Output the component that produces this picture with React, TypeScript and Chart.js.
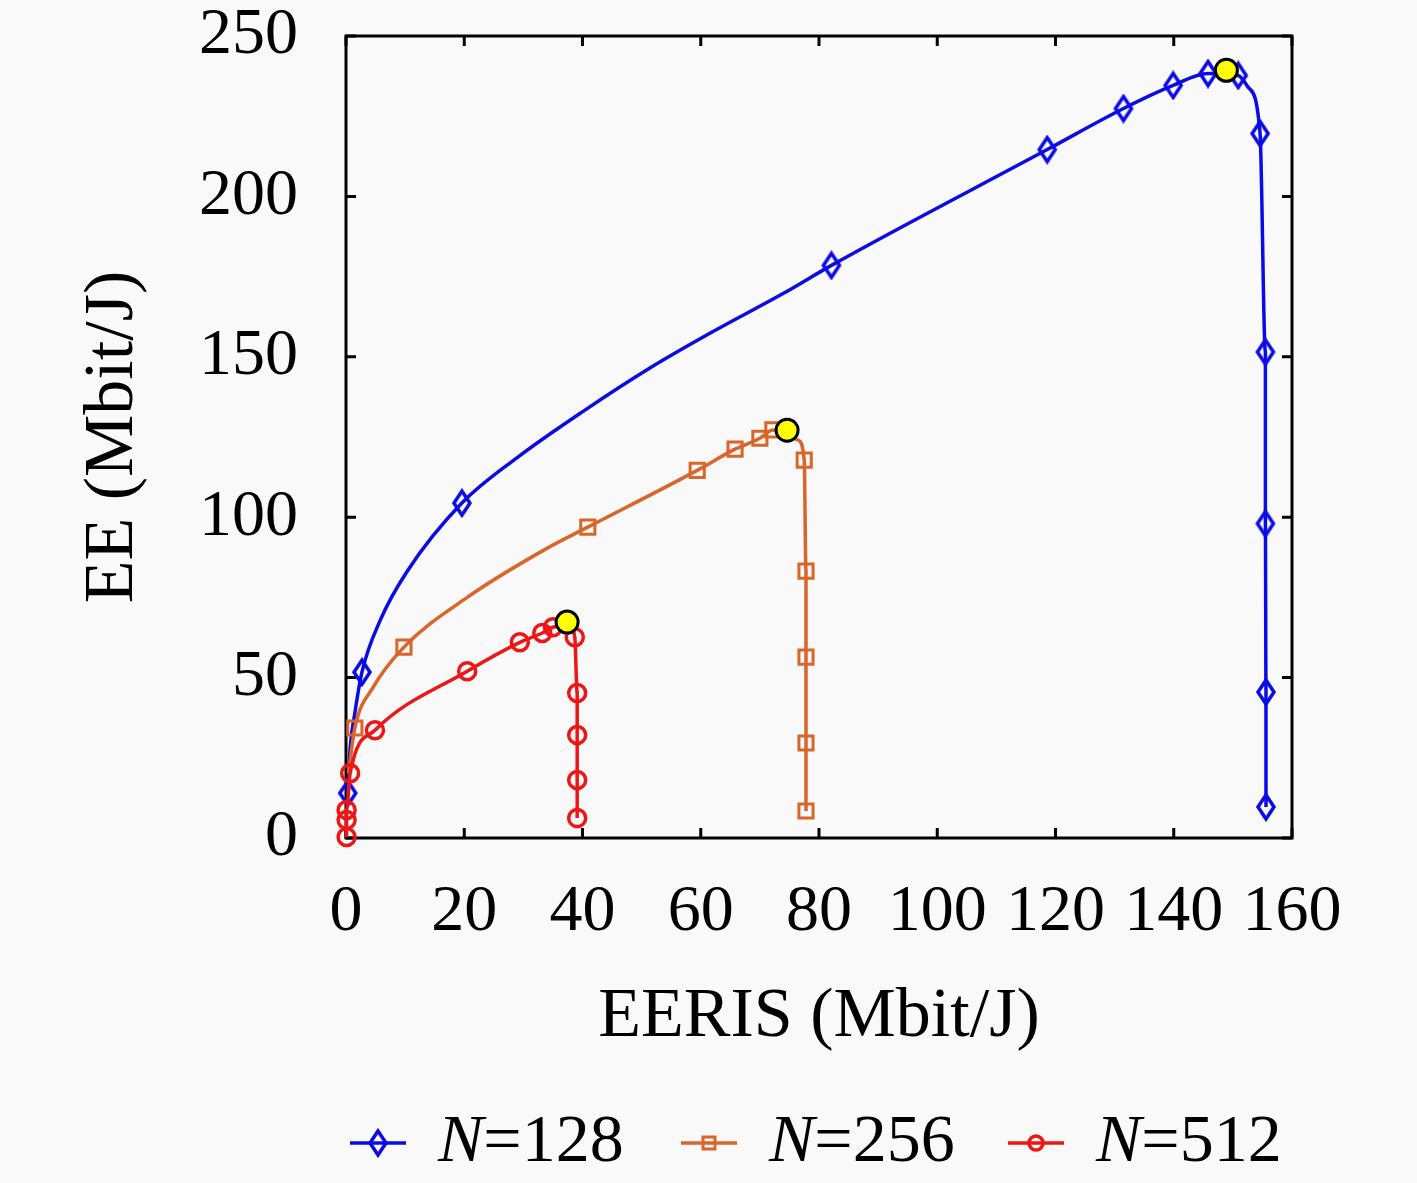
import { useEffect, useRef } from "react"
import { Chart, registerables } from "chart.js"

Chart.register(...registerables)

const FONT = "'Liberation Serif', 'Times New Roman', serif"
const BLUE = "#0b0be6"
const ORANGE = "#d9652b"
const RED = "#f01515"
const BG = "#f9f9f9"

// N = 128 (x: EERIS, y: EE); mark = 1 where a marker is drawn
const n128X = [0.3, 0.7, 1.5, 2.7, 5.8, 10.3, 19.6, 28.9, 40.1, 51.4, 62.7, 74.0, 82.1, 118.6, 131.5, 139.9, 145.8, 150.9, 152.6, 154.6, 155.5, 155.5, 155.6, 155.6]
const n128Y = [14, 28, 39, 51.7, 67.9, 83, 104.4, 118.5, 133, 146.5, 158.5, 169.8, 178.5, 214.6, 227.4, 234.6, 238.3, 237.7, 234, 219.6, 151.5, 98, 45.5, 9.7]
const n128Mark = [1, 0, 0, 1, 0, 0, 1, 0, 0, 0, 0, 0, 1, 1, 1, 1, 1, 1, 0, 1, 1, 1, 1, 1]

// N = 256
const n256X = [0.4, 1.5, 4.6, 9.8, 20.5, 33.9, 40.9, 59.4, 65.8, 70.0, 72.2, 76.5, 77.5, 77.8, 77.8, 77.8, 77.8]
const n256Y = [20, 34.3, 47, 59.5, 75, 90.2, 96.9, 114.6, 121.2, 124.6, 127.2, 124, 117.8, 83.2, 56.4, 29.6, 8.4]
const n256Mark = [0, 1, 0, 1, 0, 0, 1, 1, 1, 1, 1, 0, 1, 1, 1, 1, 1]

// N = 512
const n512X = [0.1, 0.1, 0.1, 0.7, 4.9, 20.5, 29.4, 33.2, 35.0, 37.6, 38.7, 39.1, 39.1, 39.1, 39.1]
const n512Y = [0.3, 5.6, 8.7, 20.2, 33.6, 52, 61, 63.9, 65.7, 66.5, 62.6, 45.2, 32.1, 18.1, 6.2]
const n512Mark = [1, 1, 1, 1, 1, 1, 1, 1, 1, 0, 1, 1, 1, 1, 1]

// optimum points (yellow)
const optX = [148.9, 74.6, 37.4]
const optY = [239.3, 127.1, 67.3]

const seriesN = ["128", "256", "512"]

function makeDiamond() {
  const c = document.createElement("canvas")
  c.width = 22
  c.height = 30
  const g = c.getContext("2d")!
  g.strokeStyle = BLUE
  g.lineWidth = 3.5
  g.beginPath()
  g.moveTo(11, 3)
  g.lineTo(19, 15)
  g.lineTo(11, 27)
  g.lineTo(3, 15)
  g.closePath()
  g.stroke()
  return c
}

const toPoints = (xs: number[], ys: number[]) => xs.map((x, i) => ({ x, y: ys[i] }))

export default function App() {
  const chartRef = useRef<HTMLCanvasElement>(null)
  const chartInstance = useRef<Chart | null>(null)

  useEffect(() => {
    document.body.style.margin = "0"
    document.body.style.background = BG
    if (!chartRef.current) return
    const ctx = chartRef.current.getContext("2d")
    if (!ctx) return

    if (chartInstance.current) {
      chartInstance.current.destroy()
    }

    const diamond = makeDiamond()

    const backgroundPlugin = {
      id: "bg",
      beforeDraw(chart: any) {
        const c = chart.ctx
        c.save()
        c.fillStyle = BG
        c.fillRect(0, 0, chart.width, chart.height)
        c.restore()
      },
    }

    // full box with inward ticks on all four sides
    const boxPlugin = {
      id: "box",
      beforeDatasetsDraw(chart: any) {
        const c = chart.ctx
        const { left, right, top, bottom } = chart.chartArea
        const xs = chart.scales.x
        const ys = chart.scales.y
        c.save()
        c.strokeStyle = "#000"
        c.lineWidth = 3
        c.strokeRect(left, top, right - left, bottom - top)
        c.beginPath()
        xs.ticks.forEach((t: any) => {
          const px = xs.getPixelForValue(t.value)
          c.moveTo(px, bottom)
          c.lineTo(px, bottom - 10)
          c.moveTo(px, top)
          c.lineTo(px, top + 10)
        })
        ys.ticks.forEach((t: any) => {
          const py = ys.getPixelForValue(t.value)
          c.moveTo(left, py)
          c.lineTo(left + 10, py)
          c.moveTo(right, py)
          c.lineTo(right - 10, py)
        })
        c.stroke()
        c.restore()
      },
    }

    const legendPlugin = {
      id: "bottomLegend",
      afterDraw(chart: any) {
        const c = chart.ctx
        const y = 1143
        const starts = [350, 681, 1008]
        const colors = [BLUE, ORANGE, RED]
        c.save()
        seriesN.forEach((n, i) => {
          const x0 = starts[i]
          const mid = x0 + 28
          c.strokeStyle = colors[i]
          c.lineWidth = 3.5
          c.beginPath()
          c.moveTo(x0, y)
          c.lineTo(x0 + 56, y)
          c.stroke()
          if (i === 0) {
            c.drawImage(diamond, mid - diamond.width / 2, y - diamond.height / 2)
          } else if (i === 1) {
            c.strokeStyle = ORANGE
            c.lineWidth = 3
            c.strokeRect(mid - 6, y - 6, 12, 12)
          } else {
            c.strokeStyle = RED
            c.lineWidth = 3.5
            c.beginPath()
            c.arc(mid, y, 7, 0, Math.PI * 2)
            c.stroke()
          }
          const tx = x0 + 88
          c.fillStyle = "#000"
          c.textBaseline = "middle"
          c.textAlign = "left"
          c.font = `italic 68px ${FONT}`
          c.fillText("N", tx, y)
          const w = c.measureText("N").width
          c.font = `68px ${FONT}`
          c.fillText("=" + n, tx + w, y)
        })
        c.restore()
      },
    }

    const lineSet = (label: string, xs: number[], ys: number[], marks: number[], color: string, style: any, radius: number, order: number) => ({
      label,
      data: toPoints(xs, ys),
      showLine: true,
      borderColor: color,
      borderWidth: 3.5,
      pointStyle: style,
      pointRadius: marks.map((m) => (m ? radius : 0)),
      pointBorderColor: color,
      pointBackgroundColor: "rgba(0,0,0,0)",
      pointBorderWidth: 3.5,
      cubicInterpolationMode: "monotone" as const,
      fill: false,
      clip: false as const,
      order,
    })

    chartInstance.current = new Chart(ctx, {
      type: "scatter",
      data: {
        datasets: [
          {
            label: "optimum",
            data: toPoints(optX, optY),
            showLine: false,
            pointStyle: "circle",
            pointRadius: 11,
            pointBackgroundColor: "#ffff00",
            pointBorderColor: "#000",
            pointBorderWidth: 3,
            clip: false as const,
            order: 0,
          },
          lineSet("N=128", n128X, n128Y, n128Mark, BLUE, diamond, 10, 3),
          { ...lineSet("N=256", n256X, n256Y, n256Mark, ORANGE, "rect", 10, 2), pointBorderWidth: 3 },
          lineSet("N=512", n512X, n512Y, n512Mark, RED, "circle", 8.5, 1),
        ],
      },
      options: {
        animation: false,
        responsive: true,
        maintainAspectRatio: false,
        events: [],
        layout: { padding: { top: 36, right: 125, bottom: 95, left: 0 } },
        plugins: {
          legend: { display: false },
          tooltip: { enabled: false },
        },
        scales: {
          x: {
            type: "linear",
            min: 0,
            max: 160,
            ticks: { stepSize: 20, color: "#000", font: { family: FONT, size: 66 }, padding: 35 },
            grid: { display: false, drawTicks: false },
            border: { display: false },
            title: {
              display: true,
              text: "EERIS (Mbit/J)",
              color: "#000",
              font: { family: FONT, size: 70 },
              padding: { top: 0, bottom: 28 },
            },
            afterFit: (s: any) => {
              s.height = 250
              s.paddingLeft = 0
              s.paddingRight = 0
            },
          },
          y: {
            type: "linear",
            min: 0,
            max: 250,
            ticks: { stepSize: 50, color: "#000", font: { family: FONT, size: 66 }, padding: 48 },
            grid: { display: false, drawTicks: false },
            border: { display: false },
            title: {
              display: true,
              text: "EE (Mbit/J)",
              color: "#000",
              font: { family: FONT, size: 70 },
              padding: { top: 72, bottom: 0 },
            },
            afterFit: (s: any) => {
              s.width = 346
              s.paddingTop = 0
              s.paddingBottom = 0
            },
          },
        },
      },
      plugins: [backgroundPlugin, boxPlugin, legendPlugin],
    })

    return () => {
      if (chartInstance.current) {
        chartInstance.current.destroy()
        chartInstance.current = null
      }
    }
  }, [])

  return (
    <div style={{ position: "relative", width: 1417, height: 1183 }}>
      <canvas ref={chartRef} />
    </div>
  )
}
